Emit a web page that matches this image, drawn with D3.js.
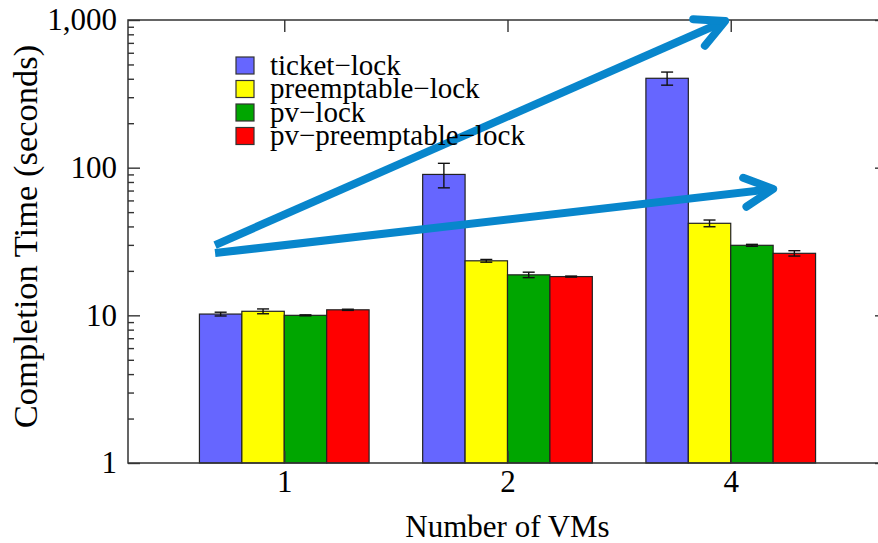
<!DOCTYPE html>
<html>
<head>
<meta charset="utf-8">
<script src="https://cdn.jsdelivr.net/npm/d3@7"></script>
<style>
    body { margin: 0; background: #fff; }
    svg { display: block; }
    svg text { font-family: "Liberation Serif", "Times New Roman", serif; }
</style>
</head>
<body>
<svg id="chart"></svg>
<script>
// number of VMs (x categories) and lock variants (series)
const vmCounts = ["1", "2", "4"];
const lockTypes = ["ticket\u2212lock", "preemptable\u2212lock", "pv\u2212lock", "pv\u2212preemptable\u2212lock"];

// completion time in seconds, one entry per VM count
const ticketLock = [10.2, 90, 403];
const ticketLockErr = [0.3, 17, 41];
const preemptableLock = [10.65, 23.4, 42];
const preemptableLockErr = [0.4, 0.5, 2.2];
const pvLock = [10.0, 18.8, 29.8];
const pvLockErr = [0.08, 0.8, 0.45];
const pvPreemptableLock = [10.9, 18.3, 26.3];
const pvPreemptableLockErr = [0.1, 0.15, 1.1];

const yTicks = [1, 10, 100, 1000];
const barColors = ["#6666ff", "#ffff00", "#00a600", "#ff0000"];

// hand drawn trend arrows, in (category index, seconds)
const trendArrows = [
    { from: [-0.31, 29.9], to: [1.975, 985] },
    { from: [-0.31, 26.4], to: [2.19, 71.7] }
];

class LogBarChart {
    margin = { top: 20, right: -9, bottom: 80, left: 128 }

    constructor(svg, width = 878, height = 543) {
        this.svg = d3.select(svg);
        this.width = width;
        this.height = height;
    }

    initialize() {
        this.innerW = this.width - this.margin.left - this.margin.right;
        this.innerH = this.height - this.margin.top - this.margin.bottom;

        this.svg.attr("width", this.width).attr("height", this.height);
        this.container = this.svg.append("g")
            .attr("transform", `translate(${this.margin.left}, ${this.margin.top})`);

        this.xScale = d3.scaleLinear().domain([-0.7, 2.7]).range([0, this.innerW]);
        this.yScale = d3.scaleLog().domain([1, 1000]).range([this.innerH, 0]);

        this.series = [
            { name: lockTypes[0], values: ticketLock, errs: ticketLockErr },
            { name: lockTypes[1], values: preemptableLock, errs: preemptableLockErr },
            { name: lockTypes[2], values: pvLock, errs: pvLockErr },
            { name: lockTypes[3], values: pvPreemptableLock, errs: pvPreemptableLockErr }
        ];
        this.barWidth = 0.19;
    }

    update() {
        const x = this.xScale, y = this.yScale;
        const minorTicks = [];
        for (let d = 1; d < 1000; d *= 10)
            for (let k = 2; k <= 9; k++) minorTicks.push(d * k);

        // bars
        const bars = [];
        this.series.forEach((s, j) => {
            s.values.forEach((v, i) => {
                bars.push({ i, j, v, e: s.errs[i] });
            });
        });
        const bx = d => x(d.i + (d.j - 2) * this.barWidth);
        const bw = x(this.barWidth) - x(0);

        this.container.selectAll("rect.bar")
            .data(bars)
            .join("rect")
            .attr("class", "bar")
            .attr("x", bx)
            .attr("y", d => y(d.v))
            .attr("width", bw)
            .attr("height", d => y(1) - y(d.v))
            .attr("fill", d => barColors[d.j])
            .attr("stroke", "#222")
            .attr("stroke-width", 1.2);

        // error bars
        const err = this.container.selectAll("g.err")
            .data(bars)
            .join("g")
            .attr("class", "err")
            .attr("transform", d => `translate(${bx(d) + bw / 2}, 0)`)
            .attr("stroke", "#111")
            .attr("stroke-width", 1.4);
        err.append("line")
            .attr("y1", d => y(d.v - d.e)).attr("y2", d => y(d.v + d.e));
        err.append("line")
            .attr("x1", -6).attr("x2", 6)
            .attr("y1", d => y(d.v - d.e)).attr("y2", d => y(d.v - d.e));
        err.append("line")
            .attr("x1", -6).attr("x2", 6)
            .attr("y1", d => y(d.v + d.e)).attr("y2", d => y(d.v + d.e));

        // frame
        this.container.append("rect")
            .attr("width", this.innerW).attr("height", this.innerH)
            .attr("fill", "none").attr("stroke", "#333").attr("stroke-width", 1.5);

        // axes
        const catIdx = vmCounts.map((_, i) => i);
        const axisStyle = g => {
            g.select(".domain").remove();
            g.selectAll(".tick line").attr("stroke", "#333").attr("stroke-width", 1.4);
            g.selectAll("text").attr("fill", "#000").style("font-size", "31px")
                .style("font-family", "'Liberation Serif', 'Times New Roman', serif");
        };

        this.container.append("g")
            .attr("transform", `translate(0, ${this.innerH})`)
            .call(d3.axisBottom(x).tickValues(catIdx).tickFormat(i => vmCounts[i])
                .tickSize(-12).tickPadding(7))
            .call(axisStyle);
        this.container.append("g")
            .call(d3.axisTop(x).tickValues(catIdx).tickFormat("").tickSize(-12))
            .call(axisStyle);

        this.container.append("g")
            .call(d3.axisLeft(y).tickValues(yTicks).tickFormat(d3.format(",")).tickSize(-12).tickPadding(11))
            .call(axisStyle);
        this.container.append("g")
            .call(d3.axisLeft(y).tickValues(minorTicks).tickFormat("").tickSize(-6))
            .call(axisStyle);
        this.container.append("g")
            .attr("transform", `translate(${this.innerW}, 0)`)
            .call(d3.axisRight(y).tickValues(yTicks).tickFormat("").tickSize(-12))
            .call(axisStyle);
        this.container.append("g")
            .attr("transform", `translate(${this.innerW}, 0)`)
            .call(d3.axisRight(y).tickValues(minorTicks).tickFormat("").tickSize(-6))
            .call(axisStyle);

        // axis titles
        this.svg.append("text")
            .attr("x", this.margin.left + x(1)).attr("y", 537)
            .attr("text-anchor", "middle").style("font-size", "31px")
            .text("Number of VMs");
        this.svg.append("text")
            .attr("transform", `translate(37, ${this.margin.top + this.innerH / 2 - 5}) rotate(-90)`)
            .attr("text-anchor", "middle").style("font-size", "34.5px")
            .text("Completion Time (seconds)");

        this.updateLegend();
        this.drawArrows();
    }

    updateLegend() {
        const legend = this.svg.selectAll(".legend")
            .data(this.series)
            .join("g")
            .attr("class", "legend")
            .attr("transform", (d, i) => `translate(236, ${57 + i * 23.5})`);

        legend.append("rect")
            .attr("width", 18).attr("height", 17)
            .attr("fill", (d, i) => barColors[i])
            .attr("stroke", "#333").attr("stroke-width", 1.2);

        legend.append("text")
            .attr("x", 34).attr("y", 9)
            .attr("dy", "0.3em")
            .style("font-size", "29px")
            .style("font-family", "'Liberation Serif', 'Times New Roman', serif")
            .text(d => d.name);
    }

    drawArrows() {
        const x = this.xScale, y = this.yScale;
        const g = this.container.append("g")
            .attr("stroke", "#0886cc").attr("stroke-width", 8)
            .attr("stroke-linecap", "round").attr("stroke-linejoin", "round")
            .attr("fill", "none");

        trendArrows.forEach(a => {
            const x0 = x(a.from[0]), y0 = y(a.from[1]);
            const x1 = x(a.to[0]), y1 = y(a.to[1]);
            const ang = Math.atan2(y0 - y1, x0 - x1);
            const len = 32, spread = 27 * Math.PI / 180;
            g.append("line").attr("x1", x0).attr("y1", y0).attr("x2", x1).attr("y2", y1)
                .attr("stroke-linecap", "butt");
            const p = d3.path();
            p.moveTo(x1 + len * Math.cos(ang + spread), y1 + len * Math.sin(ang + spread));
            p.lineTo(x1, y1);
            p.lineTo(x1 + len * Math.cos(ang - spread), y1 + len * Math.sin(ang - spread));
            g.append("path").attr("d", p.toString());
        });
    }
}

const chart = new LogBarChart(document.querySelector("#chart"));
chart.initialize();
chart.update();
</script>
</body>
</html>
